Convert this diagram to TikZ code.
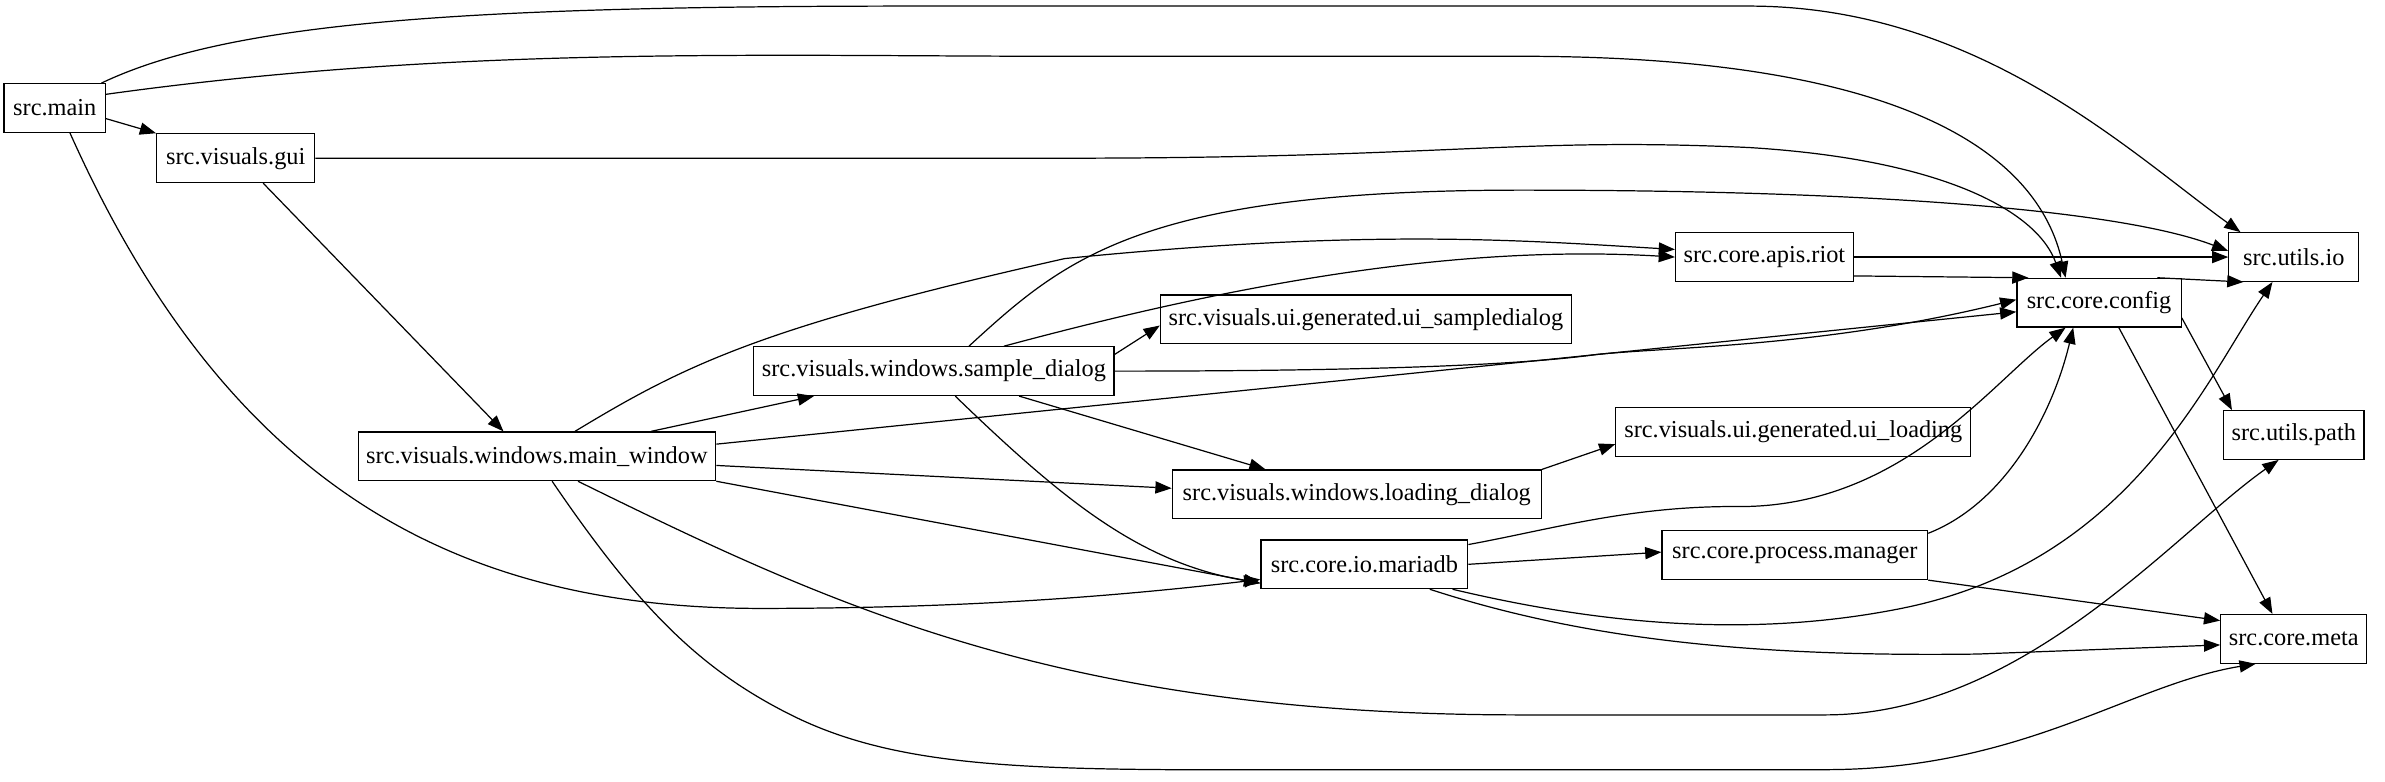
\documentclass[tikz,border=0pt]{standalone}
\usepackage{fontspec}
\setmainfont{Liberation Serif}
\usetikzlibrary{arrows.meta}
\tikzset{
  mod/.style={draw, semithick, rectangle, minimum height=24pt, inner xsep=4pt, font=\fontsize{12}{14}\selectfont},
  dep/.style={-{Triangle[length=8pt,width=6pt]}, semithick},
}
\begin{document}
\begin{tikzpicture}[x=0.75pt,y=-0.75pt]
\useasboundingbox (0,0) rectangle (1568,514);
% modules
\node[mod, minimum width=50pt] (main) at (36,71) {src.main};
\node[mod, minimum width=78pt] (gui) at (155,104) {src.visuals.gui};
\node[mod, minimum width=171pt] (mainwin) at (353,300) {src.visuals.windows.main\_window};
\node[mod, minimum width=175pt] (sample) at (614,244) {src.visuals.windows.sample\_dialog};
\node[mod, minimum width=76pt] (riot) at (1160,169) {src.core.apis.riot};
\node[mod, minimum width=202pt] (uisample) at (898,210) {src.visuals.ui.generated.ui\_sampledialog};
\node[mod, minimum width=81pt] (config) at (1380,199) {src.core.config};
\node[mod, minimum width=64pt] (io) at (1508,169) {src.utils.io};
\node[mod, minimum width=64pt] (path) at (1508,286) {src.utils.path};
\node[mod, minimum width=182pt] (loading) at (892,325) {src.visuals.windows.loading\_dialog};
\node[mod, minimum width=175pt] (uiloading) at (1179,284) {src.visuals.ui.generated.ui\_loading};
\node[mod, minimum width=102pt] (mariadb) at (897,371) {src.core.io.mariadb};
\node[mod, minimum width=131pt] (manager) at (1180,365) {src.core.process.manager};
\node[mod, minimum width=64pt] (meta) at (1508,420) {src.core.meta};
% src.main
\draw[dep] ([shift={(-3,0)}]main.north east) .. controls (150,15) and (300,4) .. (600,4) -- (1150,4) .. controls (1300,4) and (1400,100) .. ([shift={(8,0)}]io.north west);
\draw[dep] ([shift={(0,-9)}]main.east) .. controls (300,30) and (500,37) .. (700,37) -- (1000,37) .. controls (1250,37) and (1340,100) .. ([shift={(-22,0)}]config.north);
\draw[dep] ([shift={(0,7)}]main.east) -- (gui.north west);
\draw[dep] ([shift={(10,0)}]main.south) .. controls (150,320) and (300,400) .. (500,400) .. controls (650,400) and (750,390) .. ([shift={(0,10)}]mariadb.west);
% src.visuals.gui
\draw[dep] ([shift={(18,0)}]gui.south) -- ([shift={(-22,0)}]mainwin.north);
\draw[dep] (gui.east) -- (700,104) .. controls (950,104) and (1000,90) .. (1150,97) .. controls (1280,105) and (1340,140) .. ([shift={(-25,0)}]config.north);
% src.visuals.windows.main_window
\draw[dep] ([shift={(25,0)}]mainwin.north) .. controls (450,240) and (500,215) .. (700,170) .. controls (900,150) and (1000,158) .. ([shift={(0,-5)}]riot.west);
\draw[dep] ([shift={(75,0)}]mainwin.north) -- ([shift={(40,0)}]sample.south west);
\draw[dep] ([shift={(0,-8)}]mainwin.east) -- ([shift={(0,6)}]config.west);
\draw[dep] ([shift={(0,6)}]mainwin.east) -- ([shift={(0,-4)}]loading.west);
\draw[dep] (mainwin.south east) -- ([shift={(0,-4)}]mariadb.south west);
\draw[dep] ([shift={(27,0)}]mainwin.south) .. controls (550,400) and (700,470) .. (1000,470) -- (1200,470) .. controls (1330,470) and (1430,350) .. ([shift={(-10,0)}]path.south);
\draw[dep] ([shift={(10,0)}]mainwin.south) .. controls (420,400) and (460,440) .. (520,470) .. controls (600,510) and (700,506) .. (900,506) -- (1200,506) .. controls (1330,506) and (1400,450) .. ([shift={(-25,0)}]meta.south);
% src.visuals.windows.sample_dialog
\draw[dep] ([shift={(23,0)}]sample.north) .. controls (700,170) and (750,125) .. (1000,125) .. controls (1250,125) and (1400,140) .. ([shift={(0,-4)}]io.west);
\draw[dep] ([shift={(46,0)}]sample.north) .. controls (800,190) and (950,160) .. (riot.west);
\draw[dep] ([shift={(0,-11)}]sample.east) -- ([shift={(0,4)}]uisample.west);
\draw[dep] (sample.east) .. controls (900,244) and (1000,240) .. (1050,233) .. controls (1100,228) and (1200,228) .. ([shift={(0,-2)}]config.west);
\draw[dep] ([shift={(56,0)}]sample.south) -- ([shift={(-60,0)}]loading.north);
\draw[dep] ([shift={(14,0)}]sample.south) .. controls (700,330) and (750,370) .. ([shift={(0,-4)}]mariadb.south west);
% src.core.apis.riot
\draw[dep] (riot.east) -- (io.west);
\draw[dep] ([shift={(0,-4)}]riot.south east) -- ([shift={(8,0)}]config.north west);
% src.core.config
\draw[dep] ([shift={(-16,0)}]config.north east) -- ([shift={(10,0)}]io.south west);
\draw[dep] ([shift={(0,10)}]config.east) -- ([shift={(6,0)}]path.north west);
\draw[dep] ([shift={(13,0)}]config.south) -- ([shift={(-14,0)}]meta.north);
% src.visuals.windows.loading_dialog
\draw[dep] (loading.north east) -- ([shift={(0,8)}]uiloading.west);
% src.core.io.mariadb
\draw[dep] ([shift={(0,-13)}]mariadb.east) .. controls (1020,348) and (1070,333) .. (1140,333) .. controls (1250,335) and (1310,250) .. ([shift={(-22,0)}]config.south);
\draw[dep] (mariadb.east) -- ([shift={(0,-2)}]manager.west);
\draw[dep] ([shift={(58,0)}]mariadb.south) .. controls (1050,410) and (1150,420) .. (1250,400) .. controls (1400,370) and (1450,250) .. ([shift={(-14,0)}]io.south);
\draw[dep] ([shift={(43,0)}]mariadb.south) .. controls (1040,420) and (1150,432) .. (1300,430) -- ([shift={(0,4)}]meta.west);
% src.core.process.manager
\draw[dep] ([shift={(0,2)}]manager.north east) .. controls (1320,330) and (1350,270) .. ([shift={(-17,0)}]config.south);
\draw[dep] (manager.south east) -- ([shift={(0,-12)}]meta.west);
\end{tikzpicture}
\end{document}
